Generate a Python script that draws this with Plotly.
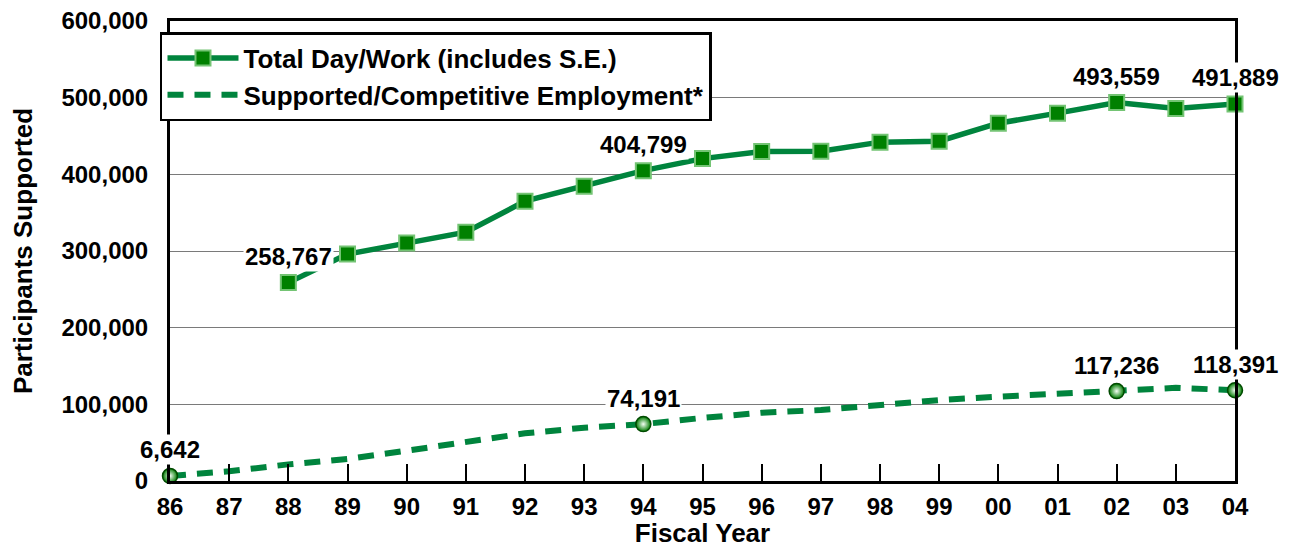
import plotly.graph_objects as go

# ---- data ----
years = ["86", "87", "88", "89", "90", "91", "92", "93", "94", "95",
         "96", "97", "98", "99", "00", "01", "02", "03", "04"]
total_day_work = [None, None, 258767, 296000, 310300, 324600, 365000, 384600,
                  404799, 420500, 429800, 430000, 442000, 443300, 466700,
                  479800, 493559, 486000, 491889]
supported_emp = [6642, 12600, 21700, 28700, 39500, 51200, 62200, 69500, 74191,
                 82300, 89000, 92500, 99000, 105600, 110000, 113600, 117236,
                 121500, 118391]
total_labeled = ["88", "94", "02", "04"]
supported_labeled = ["86", "94", "02", "04"]
y_ticks = [0, 100000, 200000, 300000, 400000, 500000, 600000]

FONT = "Liberation Sans, Arial, sans-serif"
LINE_GREEN = "#00843d"

fig = go.Figure()

fig.add_trace(go.Scatter(
    x=years, y=total_day_work, mode="lines+markers",
    name="Total Day/Work (includes S.E.)",
    line=dict(color=LINE_GREEN, width=5.5),
    marker=dict(symbol="square", size=15, color="#008000",
                line=dict(color="#74c474", width=2)),
    cliponaxis=False, connectgaps=False,
))

fig.add_trace(go.Scatter(
    x=years, y=supported_emp, mode="lines",
    name="Supported/Competitive Employment*",
    line=dict(color=LINE_GREEN, width=6, dash="16px,11px"),
    cliponaxis=False,
))

sx = [y for y in years if y in supported_labeled]
sy = [supported_emp[years.index(y)] for y in sx]
fig.add_trace(go.Scatter(
    x=sx, y=sy, mode="markers", showlegend=False,
    marker=dict(symbol="circle", size=15, color="#007a00",
                gradient=dict(type="radial", color="#f4fff4"),
                line=dict(color="#004a00", width=1.5)),
    cliponaxis=False,
))

annotations = []
for yr in total_labeled:
    v = total_day_work[years.index(yr)]
    annotations.append(dict(x=years.index(yr), y=v, xref="x", yref="y", text=f"{v:,}",
                            showarrow=False, yshift=26, bgcolor="white",
                            font=dict(size=24, family=FONT, color="black", weight="bold")))
for yr in supported_labeled:
    v = supported_emp[years.index(yr)]
    annotations.append(dict(x=years.index(yr), y=v, xref="x", yref="y", text=f"{v:,}",
                            showarrow=False, yshift=26, bgcolor="white",
                            font=dict(size=24, family=FONT, color="black", weight="bold")))

# the page body adds an 8px offset, so the figure is 8px smaller and shifted
fig.update_layout(
    width=1284, height=540,
    margin=dict(l=162, r=57, t=13, b=67),
    paper_bgcolor="white", plot_bgcolor="white",
    font=dict(family=FONT, color="black", size=24, weight="bold"),
    annotations=annotations,
    legend=dict(x=-0.0094, y=1 - 11 / 460, xanchor="left", yanchor="top",
                bordercolor="black", borderwidth=2.5, bgcolor="white",
                font=dict(size=26, family=FONT, color="black", weight="bold"),
                itemwidth=71, tracegroupgap=0),
    xaxis=dict(type="category", categoryorder="array", categoryarray=years,
               range=[0, len(years) - 1], showgrid=False, automargin=False,
               showline=True, linecolor="black", linewidth=3, mirror=True,
               ticks="inside", ticklen=17, tickwidth=2, tickcolor="black",
               tickfont=dict(size=24, family=FONT, weight="bold"),
               ticklabelstandoff=2, ticklabeloverflow="allow",
               title=dict(text="Fiscal Year", standoff=14,
                          font=dict(size=26, family=FONT, weight="bold"))),
    yaxis=dict(range=[0, 600000], tickvals=y_ticks, tickformat=",",
               showgrid=True, gridcolor="#7a7a7a", gridwidth=1,
               zeroline=False, automargin=False,
               showline=True, linecolor="black", linewidth=3, mirror=True,
               ticks="", ticklabelstandoff=14, ticklabeloverflow="allow",
               tickfont=dict(size=24, family=FONT, weight="bold"),
               title=dict(text="Participants Supported", standoff=23,
                          font=dict(size=26, family=FONT, weight="bold"))),
)

fig.write_html("out.html")
